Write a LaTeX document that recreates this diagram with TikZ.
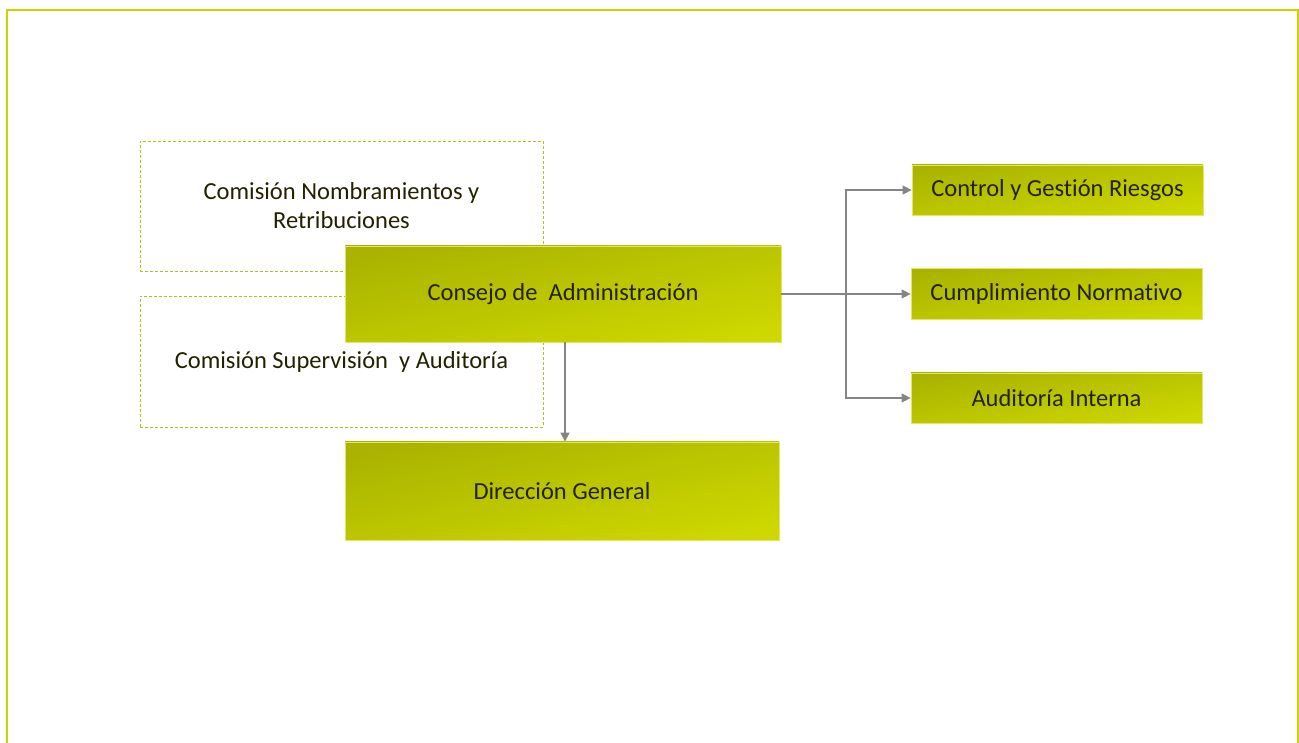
\documentclass[tikz,border=0pt]{standalone}
\usepackage{fontspec}
\setmainfont{Carlito}[Ligatures=NoCommon]
\usetikzlibrary{arrows.meta}
\definecolor{frame}{HTML}{C8D400}
\definecolor{dashc}{HTML}{B4C020}
\definecolor{gdark}{HTML}{AAB400}
\definecolor{glight}{HTML}{CDD700}
\definecolor{txt}{HTML}{222200}
\definecolor{arrc}{HTML}{858585}
\tikzset{
  comis/.style={draw=dashc, line width=0.9pt, dash pattern=on 3pt off 2pt, inner sep=0pt, align=center, text=txt, font=\fontsize{24.5}{29}\selectfont},
  gbox/.style={draw=glight!60!white, line width=0.8pt, inner sep=0pt, top color=gdark, bottom color=glight, shading angle=12.5, align=center, text=txt, font=\fontsize{24.5}{29}\selectfont},
  sbox/.style={gbox, minimum width=291pt, shading angle=9.8},
  arr/.style={draw=arrc, line width=1.4pt, -{Triangle[length=9pt,width=9pt]}},
}
\begin{document}
\begin{tikzpicture}[x=1pt,y=1pt]
\useasboundingbox (0,0) rectangle (1299,742);
\draw[frame, line width=2pt] (6.5,-10) -- (6.5,731.5) -- (1297.5,731.5) -- (1297.5,-10);
\node[comis, minimum width=403pt, minimum height=130pt] (nomb) at (341.5,536) {Comisión Nombramientos y\\Retribuciones};
\node[comis, minimum width=403pt, minimum height=131pt] (sup) at (341.5,380.5) {Comisión Supervisión~ y Auditoría};
\node[gbox, minimum width=436pt, minimum height=96pt] (cons) at (563,448) {Consejo de~ Administración};
\node[gbox, minimum width=434pt, minimum height=98pt] (dir) at (562,251) {Dirección General};
\node[sbox, minimum height=50pt] (ctrl) at (1057.5,552) {Control y Gestión Riesgos};
\node[sbox, minimum height=51pt] (cump) at (1056.5,448) {Cumplimiento Normativo};
\node[sbox, minimum height=50pt] (aud) at (1056.5,344) {Auditoría Interna};
\coordinate (br) at (846,448);
\draw[arr] ([xshift=2pt]cons.south) -- ([xshift=2pt]cons.south |- dir.north);
\draw[arr] (cons.east) -- (cump.west);
\draw[arr] (br) |- (ctrl.west);
\draw[arr] (br) |- (aud.west);
\end{tikzpicture}
\end{document}
